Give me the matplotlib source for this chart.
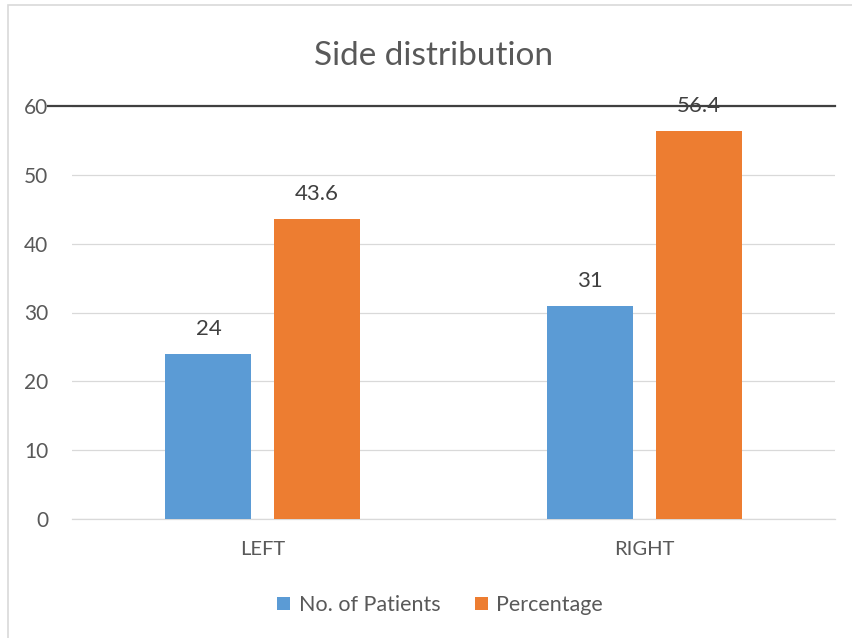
import matplotlib
matplotlib.use("Agg")
import matplotlib.pyplot as plt
import matplotlib.transforms as mtransforms
from matplotlib.patches import Rectangle
import numpy as np

categories = ["LEFT", "RIGHT"]
series_names = ["No. of Patients", "Percentage"]
patients = [24, 31]
percentage = [43.6, 56.4]
y_ticks = [0, 10, 20, 30, 40, 50, 60]

BLUE = "#5B9BD5"
ORANGE = "#ED7D31"
TEXT = "#595959"
GRID = "#D9D9D9"

plt.rcParams["font.family"] = ["Lato", "DejaVu Sans"]

fig = plt.figure(figsize=(8.53, 6.38), dpi=100)
fig.patch.set_facecolor("white")

# chart frame
fig.patches.append(Rectangle((8 / 853, -0.05), 1.1, (638 - 5.5) / 638 + 0.05,
                             transform=fig.transFigure, fill=False,
                             edgecolor="#D9D9D9", linewidth=1.2, zorder=0))

ax = fig.add_axes([72 / 853, 119 / 638, 763 / 853, 413 / 638])

x = np.arange(len(categories))
width = 0.225
offset = 0.1425

b1 = ax.bar(x - offset, patients, width, color=BLUE, label=series_names[0], zorder=3)
b2 = ax.bar(x + offset, percentage, width, color=ORANGE, label=series_names[1], zorder=3)

for bars, vals in ((b1, patients), (b2, percentage)):
    for rect, v in zip(bars, vals):
        ax.annotate(f"{v:g}", (rect.get_x() + rect.get_width() / 2, v),
                    xytext=(0, 18), textcoords="offset points",
                    ha="center", va="center", fontsize=16, color="#404040")

ax.set_xlim(-0.5, 1.5)
ax.set_ylim(0, 60)
ax.set_yticks(y_ticks)
ax.set_xticks(x)
ax.set_xticklabels(categories)

ax.yaxis.grid(True, color=GRID, linewidth=0.9, zorder=0)
ax.set_axisbelow(True)
for side in ("top", "right", "left"):
    ax.spines[side].set_visible(False)
ax.spines["bottom"].set_color(GRID)
ax.spines["bottom"].set_linewidth(0.9)

ax.tick_params(axis="y", length=0, pad=17, labelsize=15, labelcolor=TEXT)
ax.tick_params(axis="x", length=0, pad=16, labelsize=14.5, labelcolor=TEXT)

# dark reference line at the top of the scale
trans = mtransforms.blended_transform_factory(ax.transAxes, ax.transData)
ax.plot([(48 - 72) / 763, 1.0], [60, 60], transform=trans, color="#404040",
        linewidth=1.6, clip_on=False, zorder=4)

fig.text(0.508, 0.912, "Side distribution", ha="center", va="center",
         fontsize=24, color=TEXT)

fig.legend(handles=[b1, b2], labels=series_names, loc="center",
           bbox_to_anchor=(440 / 853, 33 / 638), ncol=2, frameon=False,
           fontsize=15.5, labelcolor=TEXT, handlelength=0.6, handleheight=0.6,
           handletextpad=0.4, columnspacing=1.6)

fig.savefig("out.png", dpi=100, facecolor="white")
